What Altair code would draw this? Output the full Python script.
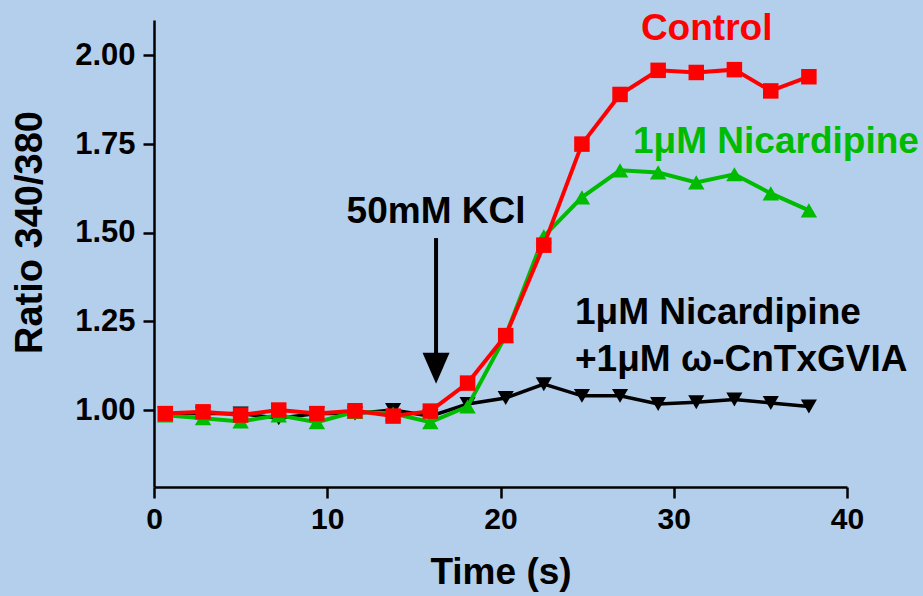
import altair as alt
import pandas as pd

# ---- data ----
time_s = [0.65, 2.83, 5.0, 7.2, 9.4, 11.6, 13.8, 15.95, 18.1, 20.3, 22.5,
          24.7, 26.9, 29.1, 31.3, 33.5, 35.6, 37.8]
control = [0.99, 0.995, 0.986, 1.0, 0.99, 0.998, 0.983, 0.997, 1.076, 1.21,
           1.465, 1.75, 1.89, 1.958, 1.952, 1.96, 1.90, 1.94]
nicardipine = [0.985, 0.977, 0.968, 0.985, 0.966, 0.995, 0.99, 0.966, 1.01,
               1.21, 1.49, 1.60, 1.676, 1.67, 1.642, 1.665, 1.611, 1.563]
nic_ctx = [0.99, 0.99, 0.99, 0.977, 0.99, 0.99, 1.0, 0.983, 1.017, 1.034,
           1.073, 1.04, 1.04, 1.017, 1.022, 1.03, 1.02, 1.01]

x_ticks = [0, 10, 20, 30, 40]
y_ticks = [1.0, 1.25, 1.5, 1.75, 2.0]

labels_text = ["Control", "1μM Nicardipine", "50mM KCl", "1μM Nicardipine", "+1μM ω-CnTxGVIA"]
labels_t = [31.9, 27.65, 16.28, 24.3, 24.3]
labels_v = [2.074, 1.755, 1.558, 1.273, 1.141]
labels_align = ["center", "left", "center", "left", "left"]
labels_color = ["#FF0000", "#00BB00", "#000000", "#000000", "#000000"]

arrow_t = [16.28]
arrow_top = [1.485]
arrow_bottom = [1.14]
arrow_head = [1.118]

FONT = "Liberation Sans"
BG = "#B3CFEC"

xs = alt.Scale(domain=[0, 40], nice=False, zero=False)
ys = alt.Scale(domain=[0.783, 2.1], nice=False, zero=False)

x_axis = alt.Axis(
    values=x_ticks, title="Time (s)", format="d", grid=False,
    domainColor="black", domainWidth=2.5, tickColor="black", tickWidth=2.5,
    tickSize=11, labelFont=FONT, labelFontWeight="bold", labelFontSize=30,
    labelColor="black", labelPadding=6, titleFont=FONT, titleFontWeight="bold",
    titleFontSize=37, titleColor="black", titlePadding=20, labelFlush=False)
y_axis = alt.Axis(
    values=y_ticks, title="Ratio 340/380", format=".2f", grid=False,
    domainColor="black", domainWidth=2.5, tickColor="black", tickWidth=2.5,
    tickSize=11, labelFont=FONT, labelFontWeight="bold", labelFontSize=31,
    labelColor="black", labelPadding=8, titleFont=FONT, titleFontWeight="bold",
    titleFontSize=38, titleColor="black", titlePadding=25, titleY=212)


def X(field):
    return alt.X(field, scale=xs, axis=x_axis, title="Time (s)")


def Y(field):
    return alt.Y(field, scale=ys, axis=y_axis, title="Ratio 340/380")


def series(values, color, shape, size, sw):
    df = pd.DataFrame({"t": time_s, "v": values})
    line = alt.Chart(df).mark_line(color=color, strokeWidth=sw).encode(
        x=X("t:Q"), y=Y("v:Q"))
    pts = alt.Chart(df).mark_point(shape=shape, filled=True, color=color,
                                   size=size, opacity=1).encode(
        x=X("t:Q"), y=Y("v:Q"))
    return line + pts


black_layer = series(nic_ctx, "#000000", "triangle-down", 260, 3.5)
green_layer = series(nicardipine, "#00BB00", "triangle-up", 270, 4)
red_layer = series(control, "#FF0000", "square", 240, 4)

lab_df = pd.DataFrame({"t": labels_t, "v": labels_v, "txt": labels_text,
                       "al": labels_align, "col": labels_color})
text_layers = []
for al in ["left", "center"]:
    text_layers.append(
        alt.Chart(lab_df[lab_df["al"] == al]).mark_text(
            font=FONT, fontWeight="bold", fontSize=37, align=al, baseline="middle"
        ).encode(x=X("t:Q"), y=Y("v:Q"),
                 text="txt:N",
                 color=alt.Color("col:N", scale=None))
    )

arrow_df = pd.DataFrame({"t": arrow_t, "top": arrow_top, "bottom": arrow_bottom,
                         "head": arrow_head})
arrow_line = alt.Chart(arrow_df).mark_rule(color="black", strokeWidth=4).encode(
    x=X("t:Q"), y=Y("top:Q"), y2="bottom:Q")
arrow_tip = alt.Chart(arrow_df).mark_point(
    shape="M-1,-1.15L1,-1.15L0,1.15Z", filled=True, color="black", size=729, opacity=1
).encode(x=X("t:Q"), y=Y("head:Q"))

chart = alt.layer(black_layer, green_layer, red_layer, arrow_line, arrow_tip,
                  *text_layers).properties(
    width=693, height=467,
    autosize=alt.AutoSizeParams(type="none"),
    padding={"left": 154, "top": 20, "right": 76, "bottom": 109},
    background=BG,
).configure_view(stroke=None, fill=BG)

chart.save("out.html", embed_options={"renderer": "svg", "actions": False})
